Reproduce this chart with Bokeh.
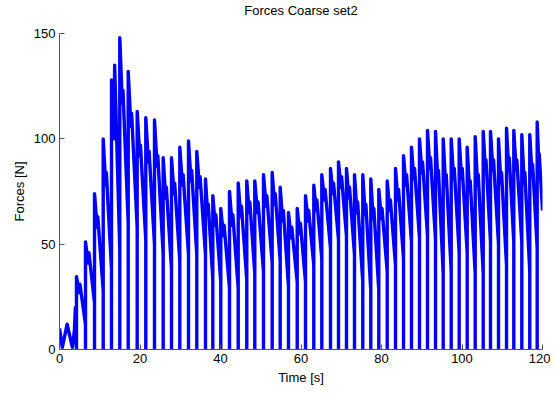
from bokeh.plotting import figure
from bokeh.models import Range1d, FixedTicker, Title
from bokeh.embed import file_html
from bokeh.resources import INLINE

# ---- data ----
early_t = [0.0, 0.7, 1.9, 2.6, 3.2, 3.7, 3.95, 4.22]
early_f = [10, 1, 12, 6, 1, 9, 20, 0]

cycle_start = [4.22, 6.46, 8.70, 10.86, 12.92, 14.98, 17.07, 19.30, 21.44, 23.60,
               25.76, 27.83, 29.89, 32.05, 34.11, 36.27, 38.09, 40.07, 42.24, 44.40,
               46.53, 48.52, 50.68, 52.84, 54.83, 56.89, 59.06, 61.12, 63.18, 65.17,
               67.33, 69.32, 71.30, 73.29, 75.35, 77.34, 79.33, 81.42, 83.48, 85.47,
               87.45, 89.44, 91.43, 93.42, 95.33, 97.32, 99.30, 101.29, 103.28, 105.27,
               107.08, 109.07, 111.06, 112.87, 114.86, 116.84, 118.68]
cycle_peak = [34.6, 51, 74, 100, 128, 148, 132, 113, 110, 109,
              91, 91, 96, 99, 94, 81, 73, 67, 75, 79,
              80, 80, 83, 84, 77, 65, 67, 73, 78, 83,
              86, 89, 86, 83, 83, 81, 76, 80, 86, 92,
              96, 100, 104, 103.5, 100, 100, 100, 96, 101, 103.5,
              103.5, 100, 105, 104, 102, 102, 108]
cycle_kink = [27, 41, 58, 78, 100, 117, 106, 92, 89, 87,
              72, 74, 78, 80, 77, 64, 59, 54, 59, 63,
              65, 65, 68, 69, 61, 53, 55, 61, 66, 71,
              74, 77, 72, 65, 64, 62, 62, 66, 71, 78,
              81, 84, 86, 80, 78, 81, 81, 75, 78, 85,
              85, 79, 86, 85, 79, 83, 88]
cycle_bump = [31, 46, 63, 84, 135, 123, 112, 97, 94, 92,
              77, 79, 83, 85, 82, 69, 64, 59, 64, 68,
              70, 70, 73, 74, 66, 58, 60, 66, 71, 76,
              79, 82, 77, 70, 69, 67, 67, 71, 76, 83,
              86, 89, 91, 85, 83, 86, 86, 80, 83, 90,
              90, 84, 91, 90, 84, 88, 93]
cycle_low = [12, 22, 28, 38, 47, 60, 58, 52, 50, 45,
             38, 42, 45, 45, 45, 33, 32, 29, 29, 33,
             36, 37, 41, 42, 30, 32, 32, 40, 43, 48,
             52, 54, 45, 32, 28, 28, 37, 40, 43, 51,
             53, 54, 52, 36, 37, 46, 46, 36, 36, 51,
             50, 40, 51, 51, 37, 48, 66]
t_end = 120.0

x_ticks = [0, 20, 40, 60, 80, 100, 120]
y_ticks = [0, 50, 100, 150]

# ---- assemble the polyline from the read values ----
xs = list(early_t)
ys = list(early_f)
n = len(cycle_start)
for i in range(n):
    t0 = cycle_start[i]
    t1 = cycle_start[i + 1] if i < n - 1 else t_end
    T = t1 - t0
    xs += [t0, t0 + 0.30 * T, t0 + 0.38 * T, t1]
    ys += [cycle_peak[i], cycle_kink[i], cycle_bump[i], cycle_low[i]]
    if i < n - 1:
        xs.append(t1)
        ys.append(0)

FONT = "Liberation Sans"

p = figure(frame_width=483, frame_height=316,
           x_range=Range1d(0, 120), y_range=Range1d(0, 150),
           output_backend="svg", toolbar_location=None,
           min_border_left=59, min_border_right=8,
           min_border_top=32, min_border_bottom=41)

p.line(xs, ys, line_color="#0000ff", line_width=3.4, line_join="round")

# spacer (closest to the frame), then the real title above it
p.add_layout(Title(text=" ", text_font_size="12px", standoff=0), "above")
p.add_layout(Title(text="Forces Coarse set2", align="center", text_font=FONT,
                   text_font_size="13px", text_font_style="normal",
                   text_color="#000000", standoff=0), "above")

p.outline_line_color = None
p.xgrid.visible = False
p.ygrid.visible = False
p.background_fill_color = "white"
p.border_fill_color = "white"

for ax, lab, ticks in ((p.xaxis[0], "Time [s]", x_ticks), (p.yaxis[0], "Forces [N]", y_ticks)):
    ax.ticker = FixedTicker(ticks=ticks)
    ax.axis_label = lab
    ax.axis_label_text_font = FONT
    ax.axis_label_text_font_size = "13px"
    ax.axis_label_text_font_style = "normal"
    ax.axis_label_text_color = "#000000"
    ax.major_label_text_font = FONT
    ax.major_label_text_font_size = "13px"
    ax.major_label_text_color = "#000000"
    ax.major_tick_in = 5
    ax.major_tick_out = 0
    ax.minor_tick_line_color = None
    ax.axis_line_color = "#555555"
    ax.major_tick_line_color = "#555555"
    ax.major_label_standoff = 4
    ax.axis_label_standoff = 4

p.yaxis[0].major_label_orientation = "horizontal"

open("out.html", "w").write(file_html(p, INLINE))
